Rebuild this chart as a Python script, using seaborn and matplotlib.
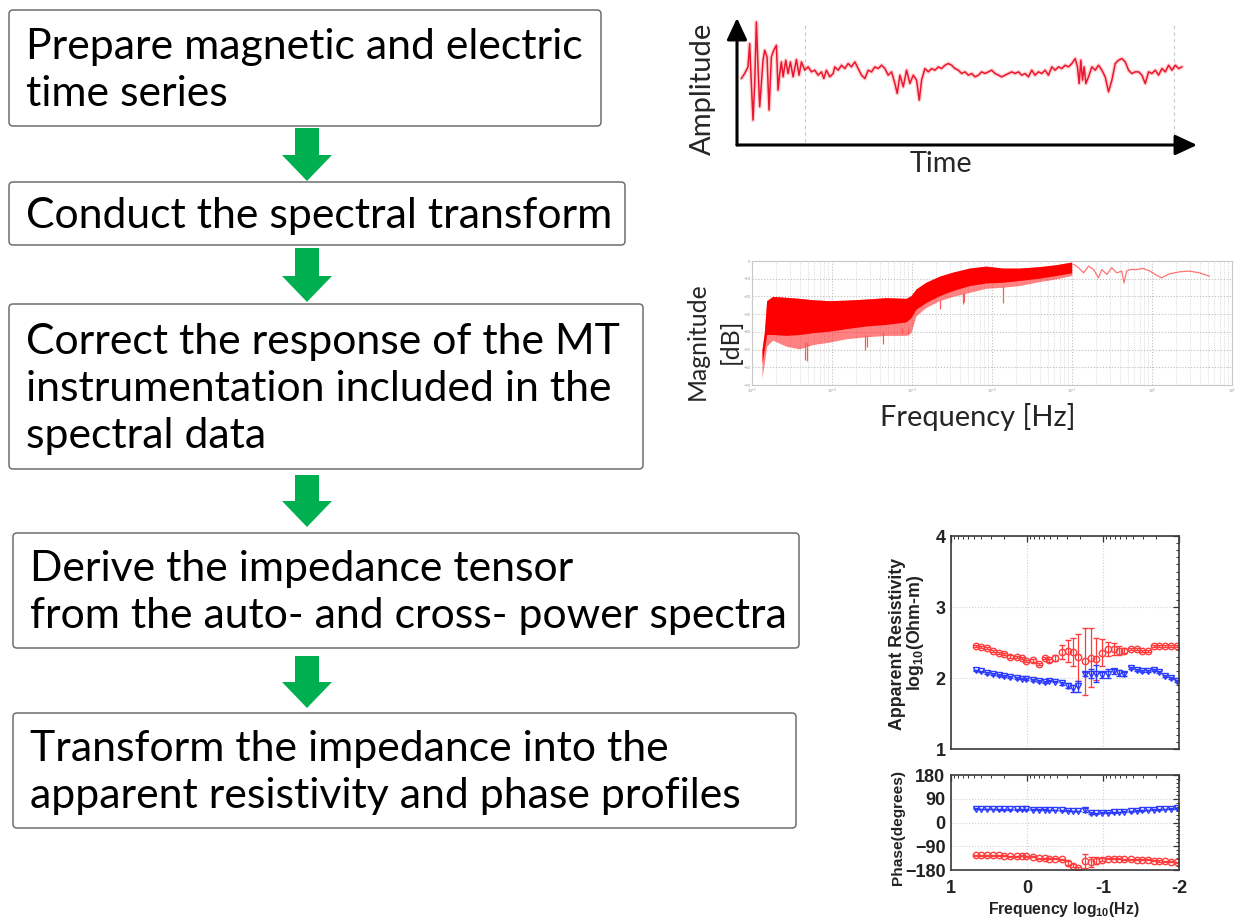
import numpy as np
import matplotlib
matplotlib.use("Agg")
import matplotlib.pyplot as plt
import seaborn as sns
from matplotlib.patches import FancyBboxPatch, FancyArrow
from matplotlib.ticker import FixedLocator, MultipleLocator, NullFormatter

# ---------------------------------------------------------------- data
steps = [
    "Prepare magnetic and electric\ntime series",
    "Conduct the spectral transform",
    "Correct the response of the MT\ninstrumentation included in the\nspectral data",
    "Derive the impedance tensor\nfrom the auto- and cross- power spectra",
    "Transform the impedance into the\napparent resistivity and phase profiles",
]

# recorded time series (arbitrary units)
ts_time = [0, 10, 20, 25, 30, 35, 40, 45, 50, 55,
           60, 65, 70, 77, 83, 90, 97, 105, 110, 115,
           120, 125, 133, 140, 147, 155, 165, 173, 180, 190,
           200, 210, 220, 230, 240, 247, 255, 265, 275, 280,
           290, 300, 310, 320, 330, 340, 350, 360, 370, 380,
           390, 400, 410, 420, 430, 440, 450, 460, 467, 475,
           485, 495, 505, 515, 525, 533, 540, 550, 560, 570,
           580, 590, 600, 610, 620, 630, 640, 650, 660, 670,
           680, 690, 700, 710, 720, 730, 740, 750, 760, 770,
           780, 790, 800, 810, 820, 830, 840, 850, 860, 870,
           880, 890, 900, 910, 920, 930, 940, 950, 960, 970,
           980, 990, 1000, 1007, 1012, 1017, 1022, 1027, 1032, 1040,
           1050, 1060, 1070, 1080, 1090, 1100, 1110, 1120, 1130, 1140,
           1150, 1160, 1170, 1180, 1190, 1200, 1210, 1220, 1230, 1240,
           1250, 1260, 1270, 1280, 1290, 1300, 1310, 1320]
ts_amp = [-20, -5, 15, 85, -35, -145, -35, 150, 15, -105,
          -35, 35, 65, 45, -115, 45, 65, 80, -55, -5,
          30, -15, 35, -5, 30, -15, 37, -10, 30, 5,
          15, 0, 5, -10, 0, -20, 5, -15, -5, 15,
          5, 20, 10, 25, 15, 30, 10, -10, -20, 5,
          0, 15, 10, 20, 10, -10, 0, -35, -65, -10,
          -45, 5, -35, -10, -25, -85, -25, 10, 0, 10,
          5, 15, 10, 20, 25, 20, 10, 5, -5, 0,
          -10, -5, -15, -10, 0, -5, 0, 5, -5, -10,
          -15, -10, -5, 0, -5, 0, -10, -5, -15, 5,
          -10, 0, -5, 5, -10, 15, 5, 15, 10, 20,
          15, 25, 40, 15, -35, 35, -25, 15, -35, -15,
          15, 5, 20, 5, -15, -60, -25, 25, 35, 40,
          30, 5, -5, 0, 0, -10, -35, 0, -5, 5,
          -10, 10, 0, 20, 5, 20, 10, 15]
ts_grid_times = [190, 1295]

# spectrum: dense band (log10 frequency, dB envelopes)
band_logf = [-4.875, -4.846, -4.817, -4.742, -4.575, -4.408, -4.242, -4.033,
             -3.825, -3.575, -3.325, -3.075, -3.013, -2.950, -2.825, -2.658,
             -2.492, -2.283, -2.075, -1.867, -1.658, -1.408, -1.200, -1.004]
band_upper = [-50.0, -40.5, -22.4, -20.0, -20.5, -21.1, -21.9, -22.4,
              -22.1, -21.5, -20.7, -21.1, -19.6, -15.8, -12.0, -8.6,
              -6.3, -4.0, -2.9, -4.0, -4.0, -3.2, -2.1, -0.6]
band_core = [-57.6, -50.0, -41.5, -41.5, -42.0, -41.5, -40.5, -39.6,
             -38.2, -36.7, -35.8, -34.4, -32.0, -27.2, -23.4, -19.6,
             -16.7, -13.9, -12.4, -12.0, -11.0, -9.7, -8.2, -6.7]
band_lower = [-66.2, -57.6, -48.1, -44.7, -48.1, -49.6, -47.2, -45.8,
              -43.9, -42.8, -42.0, -42.0, -40.5, -31.0, -26.2, -22.4,
              -20.0, -17.7, -15.4, -14.8, -13.9, -11.6, -10.1, -8.2]
# isolated deep notches below the band
spike_logf = [-4.333, -4.316, -3.583, -3.566, -3.359, -3.129, -3.050,
              -2.650, -2.360, -2.346, -1.858]
spike_top = [-46.0, -46.0, -42.0, -42.0, -40.0, -38.0, -38.0,
             -22.0, -18.0, -18.0, -14.0]
spike_bottom = [-55.7, -56.5, -50.0, -48.7, -47.0, -41.0, -42.0,
                -27.0, -24.4, -23.4, -23.8]
# sparse high-frequency tail
tail_logf = [-0.979, -0.917, -0.855, -0.793, -0.731, -0.669, -0.627, -0.565,
             -0.503, -0.441, -0.379, -0.350, -0.317, -0.275, -0.193, -0.110,
             -0.027, 0.056, 0.118, 0.222, 0.346, 0.470, 0.594, 0.718]
tail_db = [-1.9, -3.8, -6.7, -2.9, -4.8, -9.5, -4.8, -7.6,
           -3.8, -6.7, -5.7, -12.4, -5.7, -4.8, -4.8, -4.2,
           -5.7, -8.0, -9.5, -7.2, -6.1, -5.7, -6.7, -8.6]

# MT sounding curves
mt_logf = [0.668, 0.602, 0.527, 0.447, 0.367, 0.305, 0.226, 0.137, 0.062, 0.013,
           -0.075, -0.159, -0.239, -0.296, -0.372, -0.460, -0.535, -0.606, -0.677, -0.757,
           -0.845, -0.912, -0.987, -1.071, -1.146, -1.212, -1.279, -1.367, -1.447, -1.513,
           -1.588, -1.668, -1.743, -1.819, -1.889, -1.978]
rho_xy = [2.456, 2.442, 2.419, 2.386, 2.349, 2.335, 2.302, 2.298, 2.279, 2.242,
          2.247, 2.200, 2.279, 2.247, 2.279, 2.363, 2.381, 2.367, 2.293, 2.233,
          2.288, 2.265, 2.358, 2.405, 2.409, 2.386, 2.386, 2.409, 2.405, 2.386,
          2.386, 2.456, 2.456, 2.456, 2.456, 2.456]
rho_xy_err = [0.015] * 14 + [0.04, 0.10, 0.15, 0.20, 0.33, 0.47, 0.41, 0.30, 0.19,
                             0.10, 0.08, 0.06, 0.04] + [0.015] * 9
rho_yx = [2.107, 2.093, 2.070, 2.060, 2.042, 2.033, 2.019, 2.000, 1.991, 1.981,
          1.972, 1.958, 1.944, 1.963, 1.949, 1.926, 1.893, 1.856, 1.884, 2.056,
          2.060, 2.060, 2.047, 2.060, 2.093, 2.070, 2.060, 2.135, 2.116, 2.098,
          2.098, 2.107, 2.079, 2.033, 1.995, 1.963]
rho_yx_err = [0.012] * 15 + [0.02, 0.04, 0.05, 0.08, 0.03, 0.06, 0.12, 0.05,
                             0.06, 0.04, 0.04, 0.03] + [0.015] * 9
phase_yx = [52.6, 51.2, 51.2, 51.2, 49.9, 49.9, 49.9, 49.9, 49.9, 49.9,
            48.6, 48.6, 48.6, 47.3, 47.3, 46.0, 44.7, 43.4, 43.4, 47.3,
            36.8, 35.5, 36.8, 36.8, 38.1, 39.4, 40.7, 42.0, 44.7, 46.0,
            47.3, 48.6, 49.9, 51.2, 52.6, 53.9]
phase_yx_err = [1.5] * 19 + [6, 4] + [1.5] * 15
phase_xy = [-123.5, -123.5, -123.5, -123.5, -124.8, -126.1, -127.5, -127.5, -126.1, -127.5,
            -130.1, -135.3, -135.3, -136.7, -136.7, -139.3, -153.7, -164.3, -173.4, -147.2,
            -149.8, -144.5, -140.6, -138.0, -138.0, -138.0, -139.3, -139.3, -140.6, -140.6,
            -140.6, -144.5, -145.9, -147.2, -148.5, -149.8]
phase_xy_err = [2] * 16 + [6, 6, 6, 26, 20, 12, 6] + [2] * 13

freq_ticks = [1, 0, -1, -2]
rho_ticks = [1, 2, 3, 4]
phase_ticks = [180, 90, 0, -90, -180]

# ---------------------------------------------------------------- style
sns.set_theme(style="white")
plt.rcParams["font.family"] = ["Lato", "DejaVu Sans"]
plt.rcParams["mathtext.fontset"] = "custom"
plt.rcParams["mathtext.rm"] = "Liberation Sans"
plt.rcParams["mathtext.bf"] = "Liberation Sans:bold"
plt.rcParams["mathtext.default"] = "bf"

W, H = 1238, 922
fig = plt.figure(figsize=(W / 100, H / 100), dpi=100)
fig.patch.set_facecolor("white")
renderer = fig.canvas.get_renderer()

# full-figure layer in pixel units for the flow diagram and free labels
board = fig.add_axes([0, 0, 1, 1], zorder=0)
board.set_xlim(0, W)
board.set_ylim(H, 0)
board.axis("off")


def pixel_axes(left, top, right, bottom):
    a = fig.add_axes([left / W, 1 - bottom / H, (right - left) / W, (bottom - top) / H], zorder=2)
    a.set_facecolor("none")
    return a


def fit(txt, target, dim="width"):
    bb = txt.get_window_extent(renderer)
    cur = bb.width if dim == "width" else bb.height
    txt.set_fontsize(txt.get_fontsize() * target / cur)


# ---------------------------------------------------------------- flow diagram
box_rects = [(9, 10, 601, 126), (9, 182, 625, 245), (9, 304, 643, 469),
             (13, 533, 799, 648), (13, 713, 796, 828)]
text_left = [26, 26, 26, 30, 30]
text_width = [560, 585, 593, 753, 719]
arrow_spans = [(128, 181), (248, 302), (475, 527), (656, 708)]
LINE_STEP = 47
BASE_SHIFT = 14

all_lines = []
for label, (x0, y0, x1, y1), tx in zip(steps, box_rects, text_left):
    board.add_patch(FancyBboxPatch((x0, y0), x1 - x0, y1 - y0,
                                   boxstyle="round,pad=0,rounding_size=4",
                                   fc="white", ec="#6e6e6e", lw=1.1))
    lines = label.split("\n")
    cy = (y0 + y1) / 2
    objs = []
    for j, ln in enumerate(lines):
        y = cy + (j - (len(lines) - 1) / 2) * LINE_STEP + BASE_SHIFT
        objs.append(board.text(tx, y, ln, fontsize=30, ha="left", va="baseline", color="black"))
    all_lines.append(objs)

sizes = []
for objs, target in zip(all_lines, text_width):
    w = max(o.get_window_extent(renderer).width for o in objs)
    sizes.append(30 * target / w)
common = float(np.median(sizes))
for objs in all_lines:
    for o in objs:
        o.set_fontsize(common)

for (ya, yb) in arrow_spans:
    board.add_patch(FancyArrow(307, ya, 0, yb - ya, width=24, head_width=50,
                               head_length=26, length_includes_head=True,
                               fc="#00b050", ec="none"))

# ---------------------------------------------------------------- time series
ax_ts = pixel_axes(737, 18, 1197, 145)
for s in ax_ts.spines.values():
    s.set_visible(False)
ax_ts.set_xticks([])
ax_ts.set_yticks([])
ax_ts.set_xlim(-13, 1365)
ax_ts.set_ylim(-220, 162)
for tg in ts_grid_times:
    ax_ts.axvline(tg, ymin=0.02, ymax=0.97, color="#c8c8c8", lw=0.8, ls=(0, (3, 3)))
sns.lineplot(x=ts_time, y=ts_amp, ax=ax_ts, color="#ff3030", lw=3.0, alpha=0.22, sort=False)
sns.lineplot(x=ts_time, y=ts_amp, ax=ax_ts, color="#e8001c", lw=1.1, alpha=0.9, sort=False)
arrow_kw = dict(arrowstyle="-|>,head_length=0.6,head_width=0.28", lw=2.2, color="black",
                shrinkA=0, shrinkB=0, mutation_scale=22)
ax_ts.annotate("", xy=(1, 0), xytext=(0, 0), xycoords="axes fraction",
               arrowprops=arrow_kw, annotation_clip=False)
ax_ts.annotate("", xy=(0, 1), xytext=(0, 0), xycoords="axes fraction",
               arrowprops=arrow_kw, annotation_clip=False)
t = board.text(702.5, 88.5, "Amplitude", rotation=90, ha="center", va="center", fontsize=20)
fit(t, 133, "height")
t = board.text(941, 163.5, "Time", ha="center", va="center", fontsize=20)
fit(t, 63, "width")

# ---------------------------------------------------------------- spectrum
ax_sp = pixel_axes(752, 261, 1232, 385)
ax_sp.set_xscale("log")
ax_sp.set_xlim(1e-5, 1e1)
ax_sp.set_ylim(-70, 0)
f_band = 10 ** np.array(band_logf)
ax_sp.fill_between(f_band, band_lower, band_upper, color="#ff1a1a", alpha=0.55, lw=0)
ax_sp.fill_between(f_band, band_core, band_upper, color="#ff0000", lw=0)
ax_sp.vlines(10 ** np.array(spike_logf), spike_bottom, spike_top, color="#ff5a5a", lw=0.9)
sns.lineplot(x=10 ** np.array(tail_logf), y=tail_db, ax=ax_sp, color="#ff5050", lw=0.9, alpha=0.8)
ax_sp.yaxis.set_major_locator(MultipleLocator(10))
ax_sp.xaxis.set_major_locator(FixedLocator([10.0 ** k for k in range(-5, 2)]))
ax_sp.xaxis.set_minor_locator(FixedLocator([k2 * 10.0 ** k for k in range(-5, 1) for k2 in range(2, 10)]))
ax_sp.xaxis.set_minor_formatter(NullFormatter())
ax_sp.grid(True, which="major", color="#bdbdbd", ls=":", lw=0.8)
ax_sp.grid(True, which="minor", axis="x", color="#cfcfcf", ls=":", lw=0.6)
ax_sp.tick_params(which="both", length=0, labelsize=3, labelcolor="#9a9a9a", pad=1)
for s in ax_sp.spines.values():
    s.set_color("#c8c8c8")
    s.set_linewidth(0.8)
t = board.text(697.5, 341, "Magnitude", rotation=90, ha="center", va="center", fontsize=18)
fit(t, 118, "height")
board.text(730.5, 341, "[dB]", rotation=90, ha="center", va="center", fontsize=t.get_fontsize())
t = board.text(977.5, 416.5, "Frequency [Hz]", ha="center", va="center", fontsize=18)
fit(t, 195, "width")

# ---------------------------------------------------------------- MT curves
MT_FONT = ["Liberation Sans", "DejaVu Sans"]
minor_f = [d + np.log10(k) for d in (-2, -1, 0) for k in range(2, 10)]


def mt_frame(a):
    a.set_xlim(1, -2)
    a.xaxis.set_major_locator(FixedLocator(freq_ticks))
    a.xaxis.set_minor_locator(FixedLocator(minor_f))
    a.tick_params(which="both", direction="in", top=True, right=True, color="#333333")
    a.tick_params(which="major", length=4, width=0.9)
    a.tick_params(which="minor", length=2, width=0.7)
    a.grid(True, which="major", color="#d0d0d0", ls=":", lw=0.8)
    for s in a.spines.values():
        s.set_color("#3a3a3a")
        s.set_linewidth(1.2)


ax_rho = pixel_axes(951, 536, 1179, 749)
mt_frame(ax_rho)
ax_rho.set_ylim(1, 4)
ax_rho.yaxis.set_major_locator(FixedLocator(rho_ticks))
ax_rho.yaxis.set_minor_locator(MultipleLocator(0.1))
ax_rho.set_xticklabels([])
ax_rho.errorbar(mt_logf, rho_xy, yerr=rho_xy_err, fmt="o", ms=4.6, mfc="none", mec="#ff3b3b",
                mew=1.0, ecolor="#ff3b3b", elinewidth=0.9, capsize=2.5, capthick=0.9)
ax_rho.errorbar(mt_logf, rho_yx, yerr=rho_yx_err, fmt="v", ms=4.4, mfc="none", mec="#2a3bff",
                mew=1.0, ecolor="#2a3bff", elinewidth=0.9, capsize=2.5, capthick=0.9)

ax_ph = pixel_axes(951, 775, 1179, 870)
mt_frame(ax_ph)
ax_ph.set_ylim(-180, 180)
ax_ph.yaxis.set_major_locator(FixedLocator(phase_ticks))
ax_ph.yaxis.set_minor_locator(MultipleLocator(15))
ax_ph.set_xticklabels(["1", "0", "-1", "-2"])
ax_ph.errorbar(mt_logf, phase_xy, yerr=phase_xy_err, fmt="o", ms=4.6, mfc="none", mec="#ff3b3b",
               mew=1.0, ecolor="#ff3b3b", elinewidth=0.9, capsize=2.5, capthick=0.9)
ax_ph.errorbar(mt_logf, phase_yx, yerr=phase_yx_err, fmt="v", ms=4.4, mfc="none", mec="#2a3bff",
               mew=1.0, ecolor="#2a3bff", elinewidth=0.9, capsize=2.5, capthick=0.9)

for a in (ax_rho, ax_ph):
    for lab in a.get_xticklabels() + a.get_yticklabels():
        lab.set_family(MT_FONT)
        lab.set_fontweight("bold")
        lab.set_fontsize(13)
        lab.set_color("#222222")
    a.tick_params(axis="y", pad=4)
    a.tick_params(axis="x", pad=7)

lab_kw = dict(family=MT_FONT, fontweight="bold", color="#222222")
t = board.text(897.5, 643.5, "Apparent Resistivity", rotation=90, ha="center", va="center",
               fontsize=12.5, **lab_kw)
fit(t, 173, "height")
board.text(915, 633, r"log$_{10}$(Ohm-m)", rotation=90, ha="center", va="center",
           fontsize=t.get_fontsize(), **lab_kw)
t = board.text(898.5, 827.5, "Phase(degrees)", rotation=90, ha="center", va="center",
               fontsize=11, **lab_kw)
fit(t, 115, "height")
t = board.text(1064, 909, r"Frequency log$_{10}$(Hz)", ha="center", va="center",
               fontsize=11.5, **lab_kw)
fit(t, 152, "width")

fig.savefig("out.png", dpi=100, facecolor="white")
